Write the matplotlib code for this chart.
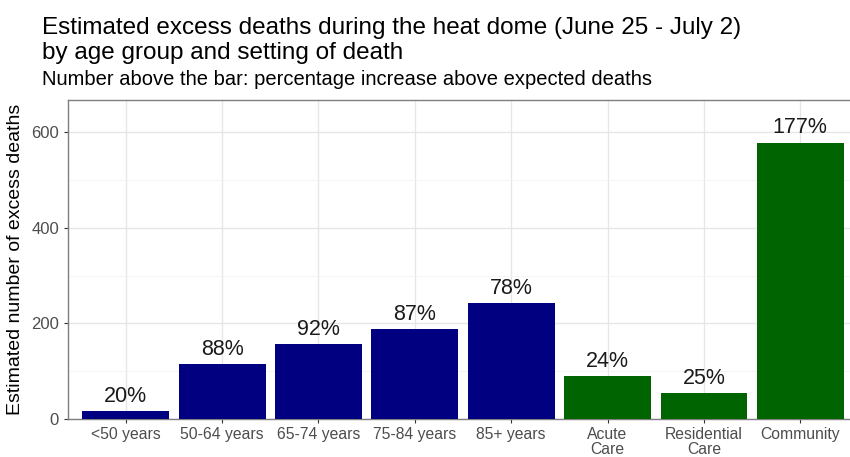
import matplotlib.pyplot as plt
from matplotlib.ticker import MultipleLocator

plt.rcParams["font.family"] = ["Liberation Sans", "DejaVu Sans"]

# data
groups = ["<50 years", "50-64 years", "65-74 years", "75-84 years", "85+ years",
          "Acute\nCare", "Residential\nCare", "Community"]
excess = [17, 114, 157, 188, 243, 89, 54, 578]
pct_labels = ["20%", "88%", "92%", "87%", "78%", "24%", "25%", "177%"]
bar_colors = ["#000080"] * 5 + ["#006400"] * 3

fig = plt.figure(figsize=(8.5, 4.57), dpi=100)
ax = fig.add_axes([68 / 850, 1 - 419 / 457, (858 - 68) / 850, (419 - 100) / 457])

x = range(len(groups))
ax.bar(x, excess, width=0.9, color=bar_colors, zorder=3)
for xi, v, lab in zip(x, excess, pct_labels):
    ax.annotate(lab, (xi, v), xytext=(0, 3), textcoords="offset points",
                ha="center", va="bottom", fontsize=15.5, color="#1a1a1a", zorder=4)

ax.set_xlim(-0.6, len(groups) - 0.4)
ax.set_ylim(0, 667)
ax.set_xticks(list(x))
ax.set_xticklabels(groups, fontsize=11.3, color="#4d4d4d", linespacing=0.98)
ax.yaxis.set_major_locator(MultipleLocator(200))
ax.yaxis.set_minor_locator(MultipleLocator(100))
ax.tick_params(axis="y", which="major", labelsize=12, labelcolor="#4d4d4d",
               color="#333333", length=3, width=0.8)
ax.tick_params(axis="x", color="#333333", length=3, width=0.8, pad=3)
ax.tick_params(axis="y", which="minor", length=0)

ax.grid(True, which="major", color="#e6e6e6", linewidth=1.0, zorder=0)
ax.grid(True, which="minor", axis="y", color="#f2f2f2", linewidth=0.6, zorder=0)
for s in ax.spines.values():
    s.set_color("#7f7f7f")
    s.set_linewidth(1.0)

ax.set_ylabel("Estimated number of excess deaths", fontsize=14, color="black", labelpad=5)

fig.text(42 / 850, 1 - 34 / 457, "Estimated excess deaths during the heat dome (June 25 - July 2)",
         fontsize=17.5, va="baseline", ha="left", color="black")
fig.text(42 / 850, 1 - 59 / 457, "by age group and setting of death",
         fontsize=17.5, va="baseline", ha="left", color="black")
fig.text(42 / 850, 1 - 85 / 457, "Number above the bar: percentage increase above expected deaths",
         fontsize=14.5, va="baseline", ha="left", color="black")

fig.savefig("out.png", dpi=100)
